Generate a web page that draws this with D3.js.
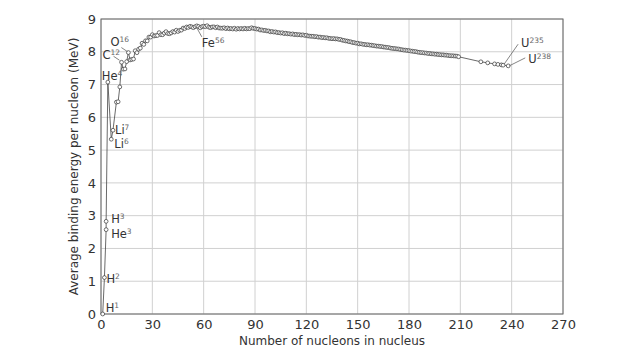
<!DOCTYPE html>
<html><head><meta charset="utf-8">
<script src="https://cdn.jsdelivr.net/npm/d3@7"></script>
<style>body{margin:0;background:#fff}svg{display:block}text{font-family:"DejaVu Sans",sans-serif}</style>
</head><body><svg id="c" width="640" height="360"></svg>
<script>
// Mass number A of each plotted nuclide
const massNumbers = [1,2,3,3,4,6,7,9,10,11,12,13,14,15,16,17,18,19,20,21,22,23,24,25,26,27,28,29,30,31,32,33,34,35,36,37,38,39,40,41,42,43,44,45,46,47,48,49,50,51,52,53,54,55,56,57,58,59,60,61,62,63,64,65,66,67,68,69,70,71,72,73,74,75,76,77,78,79,80,81,82,83,84,85,86,87,88,89,90,91,92,93,94,95,96,97,98,99,100,101,102,103,104,105,106,107,108,109,110,111,112,113,114,115,116,117,118,119,120,121,122,123,124,125,126,127,128,129,130,131,132,133,134,135,136,137,138,139,140,141,142,143,144,145,146,147,148,149,150,151,152,153,154,155,156,157,158,159,160,161,162,163,164,165,166,167,168,169,170,171,172,173,174,175,176,177,178,179,180,181,182,183,184,185,186,187,188,189,190,191,192,193,194,195,196,197,198,199,200,201,202,203,204,205,206,207,208,209,222,226,230,232,234,235,238];
// Average binding energy per nucleon (MeV)
const bindingEnergy = [0,1.112,2.573,2.827,7.074,5.332,5.606,6.463,6.475,6.928,7.680,7.470,7.476,7.699,7.976,7.751,7.767,7.779,8.032,7.972,8.080,8.112,8.261,8.224,8.334,8.332,8.448,8.449,8.521,8.481,8.493,8.498,8.584,8.520,8.520,8.570,8.614,8.557,8.551,8.576,8.617,8.601,8.658,8.619,8.656,8.661,8.723,8.711,8.756,8.742,8.776,8.760,8.736,8.765,8.790,8.770,8.732,8.768,8.781,8.765,8.795,8.752,8.736,8.757,8.760,8.734,8.756,8.725,8.722,8.718,8.732,8.705,8.725,8.701,8.711,8.695,8.718,8.688,8.711,8.696,8.711,8.696,8.717,8.697,8.708,8.705,8.733,8.714,8.710,8.693,8.693,8.664,8.667,8.649,8.654,8.635,8.635,8.609,8.619,8.601,8.607,8.584,8.585,8.571,8.580,8.554,8.567,8.548,8.551,8.537,8.545,8.523,8.532,8.517,8.523,8.510,8.517,8.499,8.505,8.482,8.478,8.472,8.473,8.458,8.463,8.445,8.449,8.431,8.438,8.424,8.428,8.410,8.408,8.397,8.403,8.392,8.394,8.378,8.376,8.354,8.346,8.331,8.327,8.309,8.304,8.281,8.280,8.263,8.262,8.240,8.244,8.229,8.225,8.213,8.215,8.204,8.202,8.189,8.184,8.173,8.173,8.162,8.159,8.147,8.142,8.132,8.130,8.115,8.106,8.098,8.097,8.087,8.084,8.069,8.061,8.052,8.049,8.039,8.035,8.023,8.018,8.008,8.005,7.991,7.983,7.974,7.973,7.963,7.962,7.948,7.949,7.938,7.936,7.927,7.927,7.916,7.912,7.905,7.906,7.898,7.897,7.886,7.880,7.878,7.875,7.870,7.868,7.848,7.695,7.662,7.631,7.615,7.601,7.591,7.570];
const xTicks = [0,30,60,90,120,150,180,210,240,270];
const yTicks = [0,1,2,3,4,5,6,7,8,9];
// Labelled nuclides: symbol, superscript, mass number, binding energy
const labelSymbols = ["H","H","H","He","He","Li","Li","C","O","Fe","U","U"];
const labelSups =    ["1","2","3","3","4","6","7","12","16","56","235","238"];
const labelA =       [1,2,3,3,4,6,7,12,16,56,235,238];
const labelE =       [0,1.112,2.827,2.573,7.074,5.332,5.606,7.680,7.976,8.790,7.591,7.570];

const W=640,H=360, m={l:101,r:77,t:19,b:46};
const svg=d3.select("#c");
const x=d3.scaleLinear().domain([0,270]).range([m.l,W-m.r]);
const y=d3.scaleLinear().domain([0,9]).range([H-m.b,m.t]);

// grid
svg.append("g").selectAll("line").data(xTicks).join("line")
  .attr("x1",d=>x(d)).attr("x2",d=>x(d)).attr("y1",y(0)).attr("y2",y(9))
  .attr("stroke","#d0d0d0").attr("stroke-width",1);
svg.append("g").selectAll("line").data(yTicks).join("line")
  .attr("x1",x(0)).attr("x2",x(270)).attr("y1",d=>y(d)).attr("y2",d=>y(d))
  .attr("stroke","#d0d0d0").attr("stroke-width",1);

// axes (labels only)
const xa=svg.append("g").attr("transform",`translate(0,${y(0)})`)
  .call(d3.axisBottom(x).tickValues(xTicks).tickSize(0).tickPadding(6));
const ya=svg.append("g").attr("transform",`translate(${x(0)},0)`)
  .call(d3.axisLeft(y).tickValues(yTicks).tickSize(0).tickPadding(5));
[xa,ya].forEach(a=>{a.select(".domain").remove();a.selectAll("text").attr("font-size",13).attr("fill","#333").attr("font-family","DejaVu Sans");});

// frame
svg.append("rect").attr("x",x(0)).attr("y",y(9)).attr("width",x(270)-x(0)).attr("height",y(0)-y(9))
  .attr("fill","none").attr("stroke","#666").attr("stroke-width",1);

// line + points
const pts=massNumbers.map((a,i)=>({a,e:bindingEnergy[i]}));
svg.append("path").datum(pts)
  .attr("d",d3.line().x(d=>x(d.a)).y(d=>y(d.e)))
  .attr("fill","none").attr("stroke","#444").attr("stroke-width",0.8);
svg.append("g").selectAll("circle").data(pts).join("circle")
  .attr("cx",d=>x(d.a)).attr("cy",d=>y(d.e)).attr("r",1.9)
  .attr("fill","#fff").attr("stroke","#333").attr("stroke-width",0.7);

// labels: offsets from point (text-left, baseline), optional leader line
const off=[
 {dx:3,dy:-2},{dx:2,dy:5},{dx:5,dy:2},{dx:5,dy:8},{dx:-6,dy:-2},
 {dx:3,dy:9},{dx:2,dy:4},{dx:-19,dy:-3,lx:-8,ly:-6,tx:-2,ty:-2},
 {dx:-18,dy:-7,lx:-7,ly:-5,tx:-1,ty:-1},{dx:5,dy:21,lx:5,ly:11,tx:0,ty:2},
 {dx:18,dy:-18,lx:15,ly:-21,tx:1,ty:-1},{dx:20,dy:-3,lx:17,ly:-8,tx:1,ty:0}
];
labelSymbols.forEach((s,i)=>{
  const px=x(labelA[i]),py=y(labelE[i]),o=off[i];
  if(o.lx!==undefined){
    svg.append("line").attr("x1",px+o.tx).attr("y1",py+o.ty).attr("x2",px+o.lx).attr("y2",py+o.ly)
      .attr("stroke","#666").attr("stroke-width",0.8);
  }
  const t=svg.append("text").attr("x",px+o.dx).attr("y",py+o.dy).attr("font-size",11.5).attr("fill","#333");
  t.append("tspan").text(s);
  t.append("tspan").attr("dy",-4).attr("font-size",7.5).attr("fill","#666").text(labelSups[i]);
});

// titles
svg.append("text").attr("x",(x(0)+x(270))/2).attr("y",345).attr("text-anchor","middle")
  .attr("font-size",12).attr("fill","#333").text("Number of nucleons in nucleus");
svg.append("text").attr("transform",`translate(78,${(y(0)+y(9))/2}) rotate(-90)`).attr("text-anchor","middle")
  .attr("font-size",12).attr("fill","#333").text("Average binding energy per nucleon (MeV)");
</script></body></html>
